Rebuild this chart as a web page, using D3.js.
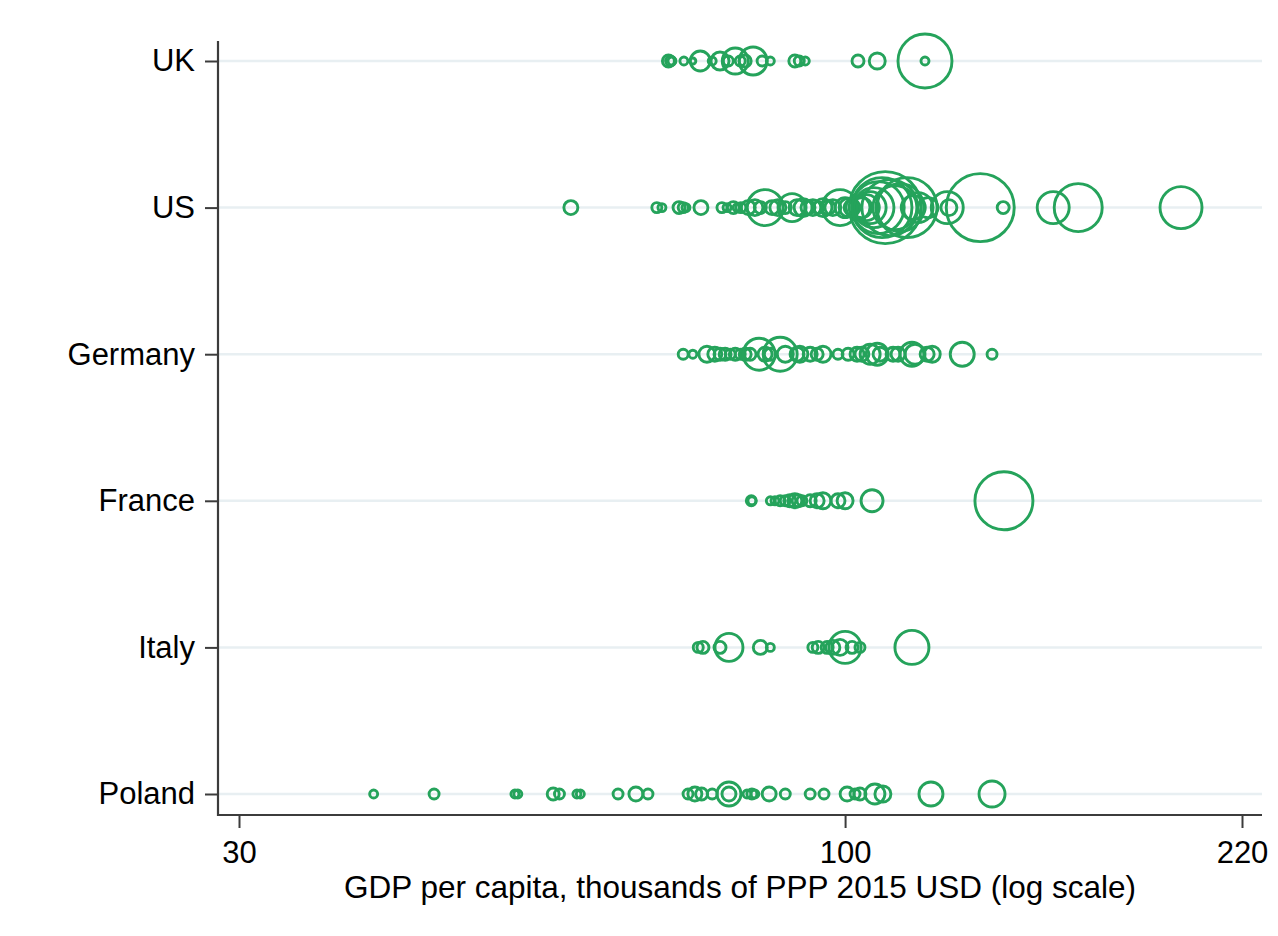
<!DOCTYPE html>
<html>
<head>
<meta charset="utf-8">
<script src="https://cdn.jsdelivr.net/npm/d3@7/dist/d3.min.js"></script>
<style>
  html, body { margin: 0; padding: 0; background: #ffffff; }
  svg { display: block; }
  text { font-family: "Liberation Sans", Arial, sans-serif; fill: #000; }
</style>
</head>
<body>
<svg id="chart" width="1278" height="936"></svg>
<script>
// Countries, top to bottom
const countries = ["UK", "US", "Germany", "France", "Italy", "Poland"];

// GDP per capita (thousands of PPP 2015 USD) for each region, and its weight (marker area)
const ukGdp = [70.4, 70.7, 70.9, 72.6, 73.9, 75.0, 76.8, 78.0, 79.3, 80.4, 81.2, 82.0, 83.3, 84.8, 86.2, 90.5, 91.3, 92.4, 102.6, 106.6, 117.2, 117.2];
const ukWeight = [36, 25, 16, 16, 9, 100, 16, 81, 25, 169, 25, 36, 196, 25, 16, 36, 25, 16, 36, 64, 729, 16];

const usGdp = [58.0, 68.8, 69.5, 71.9, 72.5, 72.9, 75.1, 78.3, 79.1, 80.1, 80.7, 81.3, 82.5, 83.6, 84.5, 85.3, 86.5, 87.5, 88.8, 90.0, 90.9, 92.0, 92.9, 93.8, 94.8, 95.7, 96.7, 97.6, 99.0, 100.0, 100.6, 101.4, 102.6, 103.4, 104.3, 105.1, 105.9, 106.8, 107.6, 108.3, 109.3, 110.4, 111.5, 113.1, 114.5, 115.6, 117.9, 122.5, 122.9, 130.8, 136.9, 151.2, 158.9, 194.9];
const usWeight = [49, 25, 16, 36, 25, 16, 49, 25, 16, 36, 16, 25, 49, 64, 36, 324, 49, 64, 36, 196, 64, 81, 49, 64, 36, 81, 49, 64, 324, 100, 81, 64, 144, 100, 169, 256, 400, 676, 900, 1296, 784, 484, 576, 900, 144, 225, 100, 256, 64, 1156, 36, 256, 576, 441];

const deGdp = [72.5, 73.9, 76.0, 77.2, 78.0, 78.8, 79.6, 80.4, 81.2, 82.0, 82.8, 84.3, 85.3, 86.2, 87.9, 88.8, 90.9, 91.4, 93.3, 94.6, 95.7, 98.6, 100.6, 102.4, 103.4, 105.1, 106.6, 107.2, 110.0, 111.1, 114.2, 114.9, 117.7, 118.9, 126.2, 133.9];
const deWeight = [25, 16, 64, 49, 36, 36, 25, 36, 25, 36, 36, 256, 49, 36, 289, 64, 49, 64, 49, 36, 64, 25, 36, 49, 49, 100, 121, 49, 49, 49, 144, 100, 49, 64, 144, 25];

const frGdp = [83.0, 83.1, 86.2, 87.0, 87.9, 88.8, 89.6, 90.5, 91.1, 91.8, 93.3, 94.6, 95.7, 98.6, 100.0, 105.5, 137.1];
const frWeight = [25, 16, 16, 16, 25, 25, 36, 49, 36, 25, 36, 49, 64, 49, 64, 121, 841];

const itGdp = [74.7, 75.4, 78.0, 79.4, 84.5, 86.2, 93.8, 94.8, 96.5, 97.6, 99.0, 100.0, 101.4, 103.0, 114.2];
const itWeight = [25, 36, 36, 196, 49, 16, 25, 36, 36, 49, 64, 256, 36, 25, 289];

const plGdp = [39.2, 44.2, 51.9, 52.2, 56.0, 56.7, 58.7, 59.1, 63.7, 66.0, 67.6, 73.2, 74.2, 75.2, 76.8, 79.4, 79.4, 82.3, 83.1, 83.6, 86.0, 88.8, 93.3, 95.9, 100.4, 102.0, 103.0, 106.1, 107.8, 118.6, 133.9];
const plWeight = [16, 25, 16, 16, 36, 25, 16, 16, 25, 49, 25, 25, 49, 36, 25, 144, 49, 16, 25, 16, 49, 25, 25, 25, 49, 25, 36, 100, 64, 144, 169];

// x-axis ticks
const xTicks = [30, 100, 220];
const xTitle = "GDP per capita, thousands of PPP 2015 USD (log scale)";

const series = [
  { country: "UK", gdp: ukGdp, weight: ukWeight },
  { country: "US", gdp: usGdp, weight: usWeight },
  { country: "Germany", gdp: deGdp, weight: deWeight },
  { country: "France", gdp: frGdp, weight: frWeight },
  { country: "Italy", gdp: itGdp, weight: itWeight },
  { country: "Poland", gdp: plGdp, weight: plWeight }
];

const points = series.flatMap(s => s.gdp.map((g, i) => ({ country: s.country, gdp: g, weight: s.weight[i] })));

const svg = d3.select("#chart");

const plot = { left: 218, right: 1262, top: 41, bottom: 815 };

const x = d3.scaleLog().domain([30, 220]).range([239, 1242]);
const y = d3.scalePoint().domain(countries).range([61, 794]);
const r = d3.scaleSqrt().domain([0, 1296]).range([0, 36]);

const green = "#25a35b";
const axisColor = "#3c3c3c";

// horizontal gridlines at each country
svg.append("g")
  .selectAll("line")
  .data(countries)
  .join("line")
  .attr("x1", plot.left + 1)
  .attr("x2", plot.right)
  .attr("y1", d => y(d))
  .attr("y2", d => y(d))
  .attr("stroke", "#e8eff2")
  .attr("stroke-width", 2.5);

// bubbles
svg.append("g")
  .selectAll("circle")
  .data(points)
  .join("circle")
  .attr("cx", d => x(d.gdp))
  .attr("cy", d => y(d.country))
  .attr("r", d => r(d.weight))
  .attr("fill", "none")
  .attr("stroke", green)
  .attr("stroke-width", 2.9);

// y axis
const yAxis = d3.axisLeft(y).tickSize(13).tickPadding(10);
const gy = svg.append("g").attr("transform", `translate(${plot.left},0)`).call(yAxis);
gy.select(".domain").remove();
gy.selectAll(".tick line").attr("stroke", axisColor).attr("stroke-width", 2);
gy.selectAll(".tick text").attr("font-size", 31).attr("font-family", "Liberation Sans, Arial, sans-serif").attr("fill", "#000");
svg.append("line")
  .attr("x1", plot.left).attr("x2", plot.left)
  .attr("y1", plot.top).attr("y2", plot.bottom + 1)
  .attr("stroke", axisColor).attr("stroke-width", 2.2);

// x axis
const xAxis = d3.axisBottom(x).tickValues(xTicks).tickFormat(d3.format("d")).tickSize(13).tickPadding(13);
const gx = svg.append("g").attr("transform", `translate(0,${plot.bottom})`).call(xAxis);
gx.select(".domain").remove();
gx.selectAll(".tick line").attr("stroke", axisColor).attr("stroke-width", 2);
gx.selectAll(".tick text").attr("font-size", 31).attr("font-family", "Liberation Sans, Arial, sans-serif").attr("fill", "#000");
svg.append("line")
  .attr("x1", plot.left - 1).attr("x2", plot.right)
  .attr("y1", plot.bottom).attr("y2", plot.bottom)
  .attr("stroke", axisColor).attr("stroke-width", 2.2);

// x axis title
svg.append("text")
  .attr("x", 740)
  .attr("y", 898)
  .attr("text-anchor", "middle")
  .attr("font-size", 31.5)
  .text(xTitle);
</script>
</body>
</html>
